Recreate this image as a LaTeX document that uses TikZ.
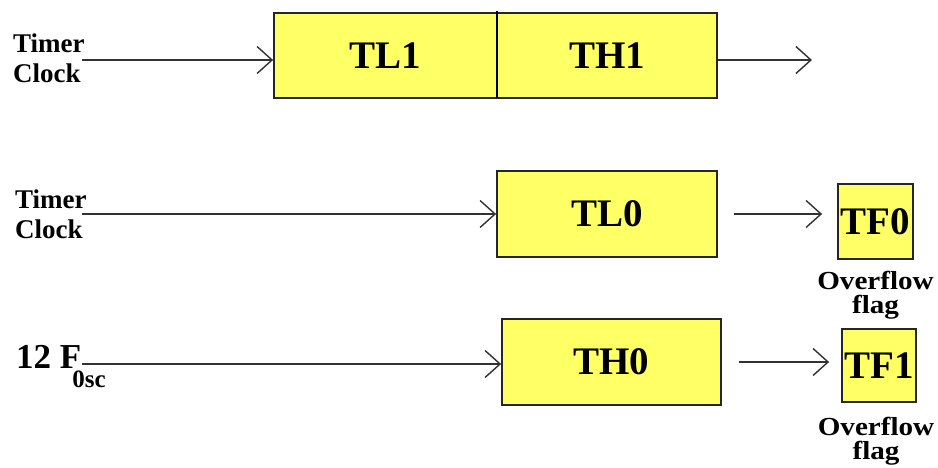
\documentclass[tikz,border=0pt]{standalone}
\usepackage{fontspec}
\setmainfont{Liberation Serif}
\newfontfamily\flagfont[FakeStretch=1.12]{Liberation Serif}
\usetikzlibrary{arrows.meta}
\definecolor{boxyellow}{RGB}{255,255,102}
\definecolor{linegray}{RGB}{50,50,50}
\tikzset{
  reg/.style={draw=black!85, line width=1.8pt, fill=boxyellow, inner sep=0pt,
    font=\fontsize{39}{40}\selectfont\bfseries},
  lbl/.style={inner sep=0pt, align=left, font=\fontsize{27}{30}\selectfont\bfseries},
  flaglbl/.style={inner sep=0pt, anchor=base, font=\flagfont\fontsize{26}{26}\selectfont\bfseries},
  arr/.style={draw=linegray, line width=1.8pt,
    -{Straight Barb[length=15pt,width=27pt,line width=1.4pt]}}
}
\begin{document}
\begin{tikzpicture}[x=1pt,y=-1pt]
\useasboundingbox[fill=white] (0,0) rectangle (938,468);
% row 1
\node[reg, minimum width=223pt, minimum height=85pt] (TL1) at (385.5,55.5) {TL1};
\node[reg, minimum width=220pt, minimum height=85pt] (TH1) at (607,55.5) {TH1};
\draw[line width=1.8pt] (497,11) -- (497,98);
\node[lbl, anchor=west] (clk1) at (13,58) {Timer\\Clock};
\coordinate (s1) at (82,60);
\coordinate (e1) at (812,60);
\draw[arr] (s1) -- (s1 -| TL1.west);
\draw[arr] (s1 -| TH1.east) -- (e1);
% row 2
\node[reg, minimum width=220pt, minimum height=86pt] (TL0) at (607,214) {TL0};
\node[reg, minimum width=75pt, minimum height=75pt] (TF0) at (875.5,221.5) {TF0};
\node[lbl, anchor=west] (clk2) at (15,214) {Timer\\Clock};
\coordinate (s2) at (82,214);
\draw[arr] (s2) -- (s2 -| TL0.west);
\draw[arr, shorten <=16pt, shorten >=15pt] (TL0.east) -- (TL0.east -| TF0.west);
\node[flaglbl] (of0a) at (875.5,289) {Overflow};
\node[flaglbl] (of0b) at (875.5,313) {flag};
% row 3
\node[reg, minimum width=219pt, minimum height=86pt] (TH0) at (611.5,362) {TH0};
\node[reg, minimum width=74pt, minimum height=73pt] (TF1) at (879,365.5) {TF1};
\node[inner sep=0pt, anchor=base west, font=\fontsize{35}{36}\selectfont\bfseries] (osc) at (16,368)
  {12 F\kern-9pt\raisebox{-19pt}{\fontsize{25}{26}\selectfont 0sc}};
\coordinate (s3) at (82,364);
\draw[arr] (s3) -- (s3 -| TH0.west);
\draw[arr, shorten <=17pt, shorten >=12pt] (TH0.east) -- (TH0.east -| TF1.west);
\node[flaglbl] (of1a) at (876,435) {Overflow};
\node[flaglbl] (of1b) at (876,459) {flag};
\end{tikzpicture}
\end{document}
